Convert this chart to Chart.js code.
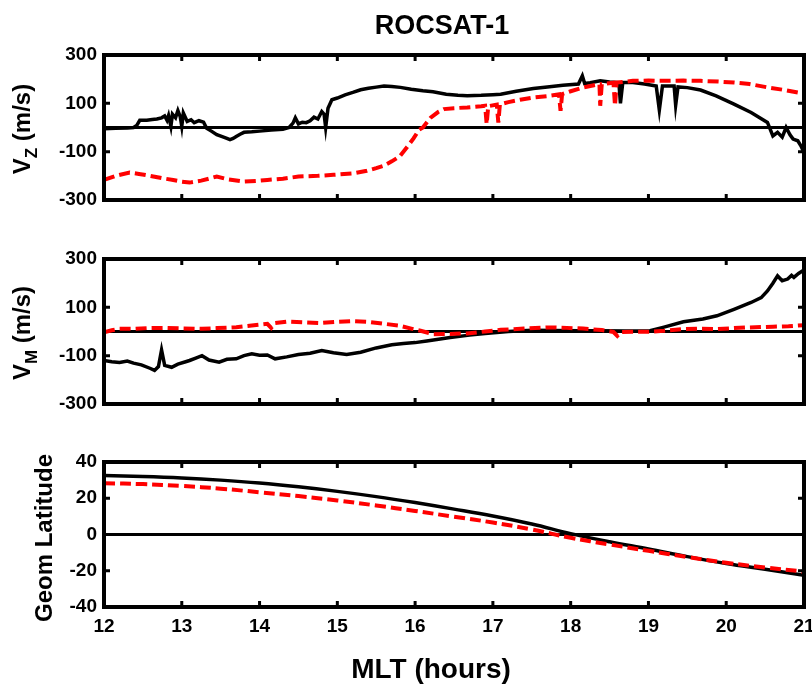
<!DOCTYPE html>
<html>
<head>
<meta charset="utf-8">
<title>ROCSAT-1</title>
<script src="https://cdn.jsdelivr.net/npm/chart.js@4.4.0/dist/chart.umd.min.js"></script>
<style>
    html, body { margin: 0; padding: 0; background: #fff; }
    #wrap { position: relative; width: 812px; height: 686px; overflow: hidden; }
    #wrap canvas { position: absolute; left: 0; }
</style>
</head>
<body>
<div id="wrap">
    <canvas id="vzChart" width="812" height="230" style="top:0"></canvas>
    <canvas id="vmChart" width="812" height="200" style="top:230px"></canvas>
    <canvas id="latChart" width="812" height="256" style="top:430px"></canvas>
</div>
<script>
// ========================================
// Data
// ========================================
const hourTicks = [12, 13, 14, 15, 16, 17, 18, 19, 20, 21];
const velTicks = [-300, -100, 100, 300];
const latTicks = [-40, -20, 0, 20, 40];

// V_Z, solid black
const vzSolidT = [12.00, 12.15, 12.30, 12.38, 12.42, 12.46, 12.55, 12.62, 12.68, 12.74, 12.78, 12.81, 12.83, 12.86, 12.88,
    12.92, 12.95, 12.98, 13.00, 13.02, 13.07, 13.12, 13.16, 13.22, 13.28, 13.32, 13.38, 13.45, 13.52, 13.58, 13.62,
    13.66, 13.70, 13.75, 13.80, 13.90, 14.00, 14.15, 14.30, 14.38, 14.43, 14.46, 14.50, 14.55, 14.60, 14.65, 14.70,
    14.75, 14.80, 14.83, 14.85, 14.88, 14.93, 15.00, 15.10, 15.20, 15.30, 15.40, 15.50, 15.60, 15.70, 15.81, 15.95,
    16.10, 16.23, 16.40, 16.55, 16.67, 16.85, 17.00, 17.10, 17.30, 17.52, 17.70, 17.90, 18.10, 18.15, 18.18, 18.25,
    18.38, 18.50, 18.62, 18.64, 18.67, 18.80, 18.95, 19.10, 19.14, 19.18, 19.33, 19.35, 19.38, 19.50, 19.67, 19.87,
    20.10, 20.32, 20.53, 20.60, 20.66, 20.72, 20.77, 20.82, 20.86, 20.92, 20.96, 21.00];
const vzSolid = [-5, -3, -2, 0, 8, 30, 30, 33, 35, 40, 48, 30, 50, 5, 55,
    40, 70, 45, 5, 60, 25, 32, 20, 28, 22, -3, -15, -30, -38, -45, -50,
    -45, -37, -28, -20, -18, -15, -10, -7, 0, 18, 40, 15, 22, 20, 28, 43,
    35, 66, 55, 0, 80, 115, 122, 135, 145, 156, 162, 167, 172, 170, 166, 158,
    152, 148, 138, 133, 131, 133, 136, 138, 150, 161, 168, 175, 180, 214, 182, 185,
    193, 188, 186, 100, 186, 186, 180, 172, 72, 172, 172, 92, 168, 165, 155, 131,
    97, 62, 21, -35, -20, -40, 0, -30, -48, -55, -76, -103];

// V_Z, dashed red
const vzDashT = [12.00, 12.15, 12.33, 12.45, 12.59, 12.75, 12.89, 13.00, 13.10, 13.25, 13.45, 13.60, 13.80, 14.00, 14.10,
    14.30, 14.50, 14.75, 14.95, 15.20, 15.38, 15.50, 15.59, 15.70, 15.80, 15.90, 15.98, 16.05, 16.10, 16.20, 16.30,
    16.37, 16.50, 16.67, 16.85, 16.90, 16.92, 16.94, 17.05, 17.07, 17.09, 17.20, 17.35, 17.52, 17.70, 17.85, 17.87,
    17.89, 18.00, 18.17, 18.30, 18.37, 18.38, 18.40, 18.55, 18.57, 18.59, 18.80, 19.00, 19.23, 19.45, 19.67, 19.90,
    20.10, 20.30, 20.53, 20.75, 21.00];
const vzDash = [-217, -200, -186, -192, -200, -210, -217, -224, -228, -220, -203, -215, -224, -220, -217,
    -212, -203, -200, -196, -190, -179, -168, -159, -140, -120, -80, -45, -10, 0, 41, 65,
    76, 80, 83, 88, 90, 14, 88, 95, 20, 96, 105, 115, 124, 130, 137, 69,
    138, 150, 166, 175, 179, 90, 180, 185, 90, 186, 193, 194, 193, 194, 193, 190,
    186, 180, 166, 155, 140];

// V_M, solid black
const vmSolidT = [12.00, 12.10, 12.20, 12.30, 12.38, 12.48, 12.59, 12.65, 12.70, 12.74, 12.78, 12.87, 12.95, 13.05, 13.10,
    13.18, 13.26, 13.35, 13.48, 13.58, 13.70, 13.80, 13.90, 14.00, 14.10, 14.20, 14.35, 14.50, 14.65, 14.80, 14.95,
    15.12, 15.30, 15.50, 15.70, 15.85, 16.00, 16.15, 16.30, 16.45, 16.70, 16.90, 17.20, 17.50, 17.80, 18.10, 18.38,
    18.70, 19.02, 19.20, 19.45, 19.70, 19.88, 20.10, 20.32, 20.45, 20.53, 20.60, 20.66, 20.72, 20.79, 20.84, 20.87,
    20.93, 21.00];
const vmSolid = [-120, -125, -128, -122, -131, -138, -152, -161, -145, -76, -140, -148, -135, -125, -120,
    -110, -100, -118, -127, -115, -113, -100, -92, -98, -97, -113, -105, -95, -90, -79, -88,
    -95, -86, -68, -55, -50, -46, -39, -32, -25, -15, -8, 0, 5, 4, 3, 3,
    2, 3, 18, 40, 52, 65, 92, 120, 140, 168, 200, 230, 210, 217, 232, 224,
    240, 255];

// V_M, dashed red
const vmDashT = [12.00, 12.10, 12.20, 12.38, 12.55, 12.80, 13.00, 13.26, 13.45, 13.70, 13.90, 14.10, 14.15, 14.20, 14.35,
    14.55, 14.77, 15.00, 15.20, 15.40, 15.60, 15.80, 15.95, 16.07, 16.23, 16.45, 16.67, 16.90, 17.10, 17.40, 17.73,
    17.95, 18.16, 18.40, 18.55, 18.60, 18.65, 18.80, 19.00, 19.20, 19.45, 19.65, 19.88, 20.10, 20.30, 20.60, 20.80,
    21.00];
const vmDash = [-3, 5, 11, 11, 14, 15, 13, 11, 14, 18, 25, 32, 15, 35, 41,
    38, 35, 40, 43, 40, 32, 24, 12, 3, -11, -10, -8, 0, 7, 12, 17,
    15, 12, 6, -2, -18, -2, -1, -1, 3, 10, 12, 10, 14, 17, 20, 22,
    26];

// Geographic latitude
const latHours = [12, 12.5, 13, 13.5, 14, 14.5, 15, 15.5, 16, 16.5, 17, 17.5, 18, 18.5, 19, 19.5, 20, 20.5, 21];
const latSolid = [32.5, 32.0, 31.2, 30.0, 28.4, 26.3, 23.8, 20.9, 17.6, 14.0, 10.2, 5.8, 0.5, -4.0, -8.0, -12.2, -16.0, -19.2, -22.5];
const latDash = [28.3, 27.8, 26.8, 25.3, 23.3, 21.2, 18.8, 16.0, 13.0, 9.8, 6.6, 2.8, -1.8, -5.5, -9.0, -12.4, -15.6, -18.2, -20.5];

// ========================================
// Helpers
// ========================================
const FONT = '"Liberation Sans", Arial, Helvetica, sans-serif';
const pts = (t, v) => t.map((x, i) => ({ x: x, y: v[i] }));

function drawRotLabel(ctx, lbl) {
    const main = `bold ${lbl.size}px ${FONT}`;
    const small = `bold ${Math.round(lbl.size * 0.7)}px ${FONT}`;
    ctx.save();
    ctx.translate(lbl.x, lbl.y);
    ctx.rotate(-Math.PI / 2);
    ctx.fillStyle = '#000';
    ctx.textBaseline = 'middle';
    ctx.textAlign = 'left';
    ctx.font = main;
    const w1 = ctx.measureText(lbl.text).width;
    const w3 = lbl.rest ? ctx.measureText(lbl.rest).width : 0;
    ctx.font = small;
    const w2 = lbl.sub ? ctx.measureText(lbl.sub).width : 0;
    let x = -(w1 + w2 + w3) / 2;
    ctx.font = main;
    ctx.fillText(lbl.text, x, 0);
    x += w1;
    if (lbl.sub) {
        ctx.font = small;
        ctx.fillText(lbl.sub, x, lbl.size * 0.38);
        x += w2;
    }
    if (lbl.rest) {
        ctx.font = main;
        ctx.fillText(lbl.rest, x, 0);
    }
    ctx.restore();
}

// frame, inward ticks, zero line and free text
const panelFrame = {
    id: 'panelFrame',
    beforeDatasetsDraw(chart) {
        const { ctx, chartArea: a } = chart;
        const y0 = chart.scales.y.getPixelForValue(0);
        ctx.save();
        ctx.strokeStyle = '#000';
        ctx.lineWidth = 3;
        ctx.beginPath();
        ctx.moveTo(a.left, y0);
        ctx.lineTo(a.right, y0);
        ctx.stroke();
        ctx.restore();
    },
    afterDraw(chart, args, opts) {
        const { ctx, chartArea: a, scales } = chart;
        const tl = 6;
        ctx.save();
        ctx.strokeStyle = '#000';
        ctx.lineWidth = 3;
        ctx.beginPath();
        scales.x.ticks.forEach(t => {
            const px = scales.x.getPixelForValue(t.value);
            if (px <= a.left + 1 || px >= a.right - 1) return;
            ctx.moveTo(px, a.top); ctx.lineTo(px, a.top + tl);
            ctx.moveTo(px, a.bottom); ctx.lineTo(px, a.bottom - tl);
        });
        scales.y.ticks.forEach(t => {
            const py = scales.y.getPixelForValue(t.value);
            if (py <= a.top + 1 || py >= a.bottom - 1) return;
            ctx.moveTo(a.left, py); ctx.lineTo(a.left + tl, py);
            ctx.moveTo(a.right, py); ctx.lineTo(a.right - tl, py);
        });
        ctx.stroke();
        ctx.lineWidth = 4;
        ctx.strokeRect(a.left, a.top, a.right - a.left, a.bottom - a.top);

        (opts.texts || []).forEach(t => {
            ctx.fillStyle = '#000';
            ctx.font = `bold ${t.size}px ${FONT}`;
            ctx.textAlign = 'center';
            ctx.textBaseline = 'middle';
            ctx.fillText(t.text, t.x, t.y);
        });
        (opts.labels || []).forEach(l => drawRotLabel(ctx, l));
        ctx.restore();
    }
};

function makePanel(id, cfg) {
    const tickFont = { family: FONT, size: 19, weight: 'bold' };
    return new Chart(document.getElementById(id), {
        type: 'line',
        data: {
            datasets: [
                {
                    data: pts(cfg.dashT, cfg.dash),
                    borderColor: '#ff0000',
                    borderWidth: 4,
                    borderDash: [11, 5],
                    pointRadius: 0,
                    tension: cfg.smooth ? 0.4 : 0,
                    order: 0
                },
                {
                    data: pts(cfg.solidT, cfg.solid),
                    borderColor: '#000000',
                    borderWidth: 3.5,
                    pointRadius: 0,
                    tension: cfg.smooth ? 0.4 : 0,
                    order: 1
                }
            ]
        },
        options: {
            responsive: false,
            animation: false,
            layout: { padding: { left: 0, right: 8, top: cfg.padTop, bottom: 0 } },
            plugins: {
                legend: { display: false },
                tooltip: { enabled: false },
                panelFrame: { texts: cfg.texts, labels: cfg.labels }
            },
            scales: {
                x: {
                    type: 'linear',
                    min: hourTicks[0],
                    max: hourTicks[hourTicks.length - 1],
                    afterBuildTicks: s => { s.ticks = hourTicks.map(v => ({ value: v })); },
                    afterFit: s => {
                        s.height = cfg.xHeight;
                        // keep the plot edge fixed; the last label may run off the page
                        s.paddingLeft = 0;
                        s.paddingRight = 0;
                    },
                    grid: { display: false, drawTicks: false },
                    border: { display: false },
                    ticks: {
                        display: cfg.showX,
                        color: '#000',
                        font: tickFont,
                        padding: 8,
                        maxRotation: 0,
                        autoSkip: false
                    }
                },
                y: {
                    min: cfg.yTicks[0],
                    max: cfg.yTicks[cfg.yTicks.length - 1],
                    afterBuildTicks: s => { s.ticks = cfg.yTicks.map(v => ({ value: v })); },
                    afterFit: s => {
                        s.width = 104;
                        s.paddingTop = 0;
                        s.paddingBottom = 0;
                    },
                    grid: { display: false, drawTicks: false },
                    border: { display: false },
                    ticks: { color: '#000', font: tickFont, padding: 7, autoSkip: false }
                }
            }
        },
        plugins: [panelFrame]
    });
}

// ========================================
// Panels
// ========================================
makePanel('vzChart', {
    solidT: vzSolidT, solid: vzSolid, dashT: vzDashT, dash: vzDash,
    yTicks: velTicks, padTop: 55, xHeight: 30, showX: false,
    texts: [{ text: 'ROCSAT-1', x: 442, y: 27, size: 27 }],
    labels: [{ text: 'V', sub: 'Z', rest: ' (m/s)', x: 23, y: 129, size: 24 }]
});

makePanel('vmChart', {
    solidT: vmSolidT, solid: vmSolid, dashT: vmDashT, dash: vmDash,
    yTicks: velTicks, padTop: 29, xHeight: 26, showX: false,
    labels: [{ text: 'V', sub: 'M', rest: ' (m/s)', x: 23, y: 103, size: 24 }]
});

makePanel('latChart', {
    solidT: latHours, solid: latSolid, dashT: latHours, dash: latDash,
    yTicks: latTicks, padTop: 32, xHeight: 79, showX: true, smooth: true,
    texts: [{ text: 'MLT (hours)', x: 431, y: 240, size: 28 }],
    labels: [{ text: 'Geom Latitude', x: 45, y: 108, size: 24 }]
});
</script>
</body>
</html>
